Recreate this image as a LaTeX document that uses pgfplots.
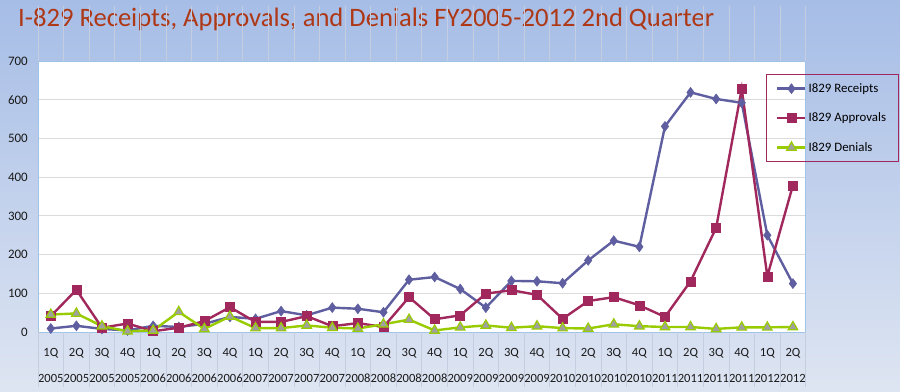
\documentclass[border=0pt]{standalone}
\usepackage{fontspec}
\setmainfont{Carlito}
\usepackage{pgfplots}
\pgfplotsset{compat=1.18}
\definecolor{bgTop}{RGB}{166,189,230}
\definecolor{bgBot}{RGB}{222,229,242}
\definecolor{rec}{RGB}{94,94,160}
\definecolor{app}{RGB}{160,40,92}
\definecolor{den}{RGB}{153,204,0}
\definecolor{dengrey}{RGB}{160,160,160}
\definecolor{titlec}{RGB}{174,56,22}
\definecolor{frame}{RGB}{160,196,232}
\definecolor{sep}{RGB}{196,206,224}
\begin{document}
\begin{tikzpicture}
\shade[top color=bgTop, bottom color=bgBot] (0bp,0bp) rectangle (900bp,392bp);
\useasboundingbox (0bp,0bp) rectangle (900bp,392bp);
\node[anchor=base west, text=titlec, font=\fontsize{26.7}{32}\selectfont, inner sep=0pt] at (18bp,365.5bp) {I-829 Receipts, Approvals, and Denials FY2005-2012 2nd Quarter};
\begin{axis}[
  at={(38bp,60bp)}, anchor=south west,
  scale only axis, width=767.7bp, height=271bp,
  xmin=-0.5, xmax=29.5, ymin=0, ymax=700,
  clip=false,
  axis background/.style={fill=white},
  axis line style={draw=frame, line width=1bp},
  ytick={0,100,...,700},
  ymajorgrids, grid style={draw=black!14, line width=0.8bp},
  ytick style={draw=none},
  major tick length=0bp,
  tick style={line cap=butt},
  /pgf/number format/assume math mode=true,
  yticklabel style={font=\fontsize{13}{15}\selectfont, text=black!90, inner sep=0pt, xshift=-10bp},
  xtick={0,...,29},
  xticklabels={{1Q\\2005},{2Q\\2005},{3Q\\2005},{4Q\\2005},{1Q\\2006},{2Q\\2006},{3Q\\2006},{4Q\\2006},{1Q\\2007},{2Q\\2007},{3Q\\2007},{4Q\\2007},{1Q\\2008},{2Q\\2008},{3Q\\2008},{4Q\\2008},{1Q\\2009},{2Q\\2009},{3Q\\2009},{4Q\\2009},{1Q\\2010},{2Q\\2010},{3Q\\2010},{4Q\\2010},{1Q\\2011},{2Q\\2011},{3Q\\2011},{4Q\\2011},{1Q\\2012},{2Q\\2012}},
  xticklabel style={font=\fontsize{12.6}{26}\selectfont, text=black!90, align=center, anchor=north, inner sep=0pt, yshift=-16bp},
  extra x ticks={-0.5,0.5,...,29.5},
  extra x tick labels={},
  extra x tick style={grid=none, tick align=outside, major tick length=55bp, tick style={draw=sep, line width=0.8bp}},
  legend style={at={(0.948,0.952)}, anchor=north west, draw=app, line width=1bp, fill=none,
    font=\fontsize{12.9}{15}\selectfont, row sep=15bp, inner xsep=10bp, inner ysep=7bp},
  legend cell align=left,
  legend image code/.code={\draw[mark repeat=2,mark phase=2] plot coordinates {(0bp,0bp) (14bp,0bp) (28bp,0bp)};},
]
\addplot[rec, line width=2.4bp, mark=diamond*, mark size=5bp, mark options={solid, fill=rec, line width=0.5bp}] coordinates {
(0,9)(1,16)(2,8)(3,4)(4,16)(5,13)(6,21)(7,39)(8,34)(9,54)(10,43)(11,63)(12,60)(13,51)(14,135)(15,142)(16,111)(17,63)(18,132)(19,131)(20,126)(21,185)(22,236)(23,220)(24,531)(25,619)(26,602)(27,592)(28,250)(29,125)};
\addlegendentry{I829 Receipts}
\addplot[app, line width=2.4bp, mark=square*, mark size=4.5bp, mark options={solid, fill=app, line width=0.5bp}] coordinates {
(0,41)(1,109)(2,11)(3,22)(4,2)(5,11)(6,28)(7,64)(8,26)(9,26)(10,41)(11,15)(12,23)(13,13)(14,90)(15,33)(16,43)(17,99)(18,108)(19,96)(20,34)(21,80)(22,90)(23,69)(24,39)(25,131)(26,269)(27,628)(28,144)(29,379)};
\addlegendentry{I829 Approvals}
\addplot[den, line width=2.4bp, mark=triangle*, mark size=5.5bp, mark options={solid, fill=dengrey, draw=den, line width=1.2bp}] coordinates {
(0,45)(1,48)(2,15)(3,2)(4,4)(5,52)(6,8)(7,40)(8,10)(9,10)(10,17)(11,11)(12,9)(13,20)(14,32)(15,4)(16,12)(17,17)(18,11)(19,15)(20,10)(21,9)(22,20)(23,15)(24,13)(25,13)(26,8)(27,12)(28,12)(29,13)};
\addlegendentry{I829 Denials}
\end{axis}
\end{tikzpicture}
\end{document}
